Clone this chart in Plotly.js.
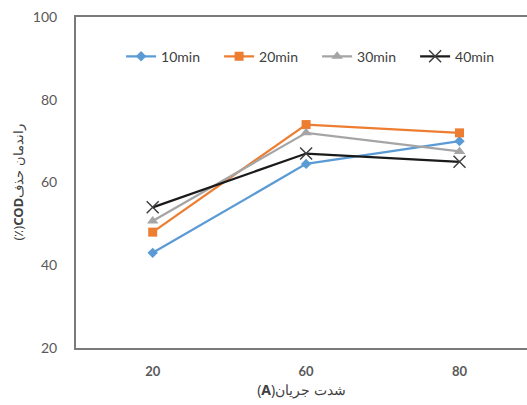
<!DOCTYPE html>
<html>
<head>
<meta charset="utf-8">
<script src="https://cdn.plot.ly/plotly-3.0.1.min.js"></script>
<style>html,body{margin:0;padding:0;background:#fff;}#chart{width:527px;height:405px;}</style>
</head>
<body>
<div id="chart"></div>
<script>
const categories = ["20", "60", "80"];
const seriesNames = ["10min", "20min", "30min", "40min"];
const values10 = [43, 64.5, 70];
const values20 = [48, 74, 72];
const values30 = [50.7, 72, 67.5];
const values40 = [54, 67, 65];
const yTicks = [20, 40, 60, 80, 100];

const styles = [
  {line: '#5B9BD5', marker: {symbol: 'diamond', size: 8, color: '#5B9BD5'}},
  {line: '#ED7D31', marker: {symbol: 'square', size: 9, color: '#ED7D31'}},
  {line: '#A5A5A5', marker: {symbol: 'triangle-up', size: 10, color: '#A5A5A5'}},
  {line: '#1a1a1a', marker: {symbol: 'x-thin-open', size: 12, color: '#404040', line: {color: '#404040', width: 1.5}}}
];
const allValues = [values10, values20, values30, values40];

const traces = allValues.map((v, i) => ({
  type: 'scatter',
  mode: 'lines+markers',
  name: seriesNames[i],
  x: categories,
  y: v,
  line: {color: styles[i].line, width: 2.25},
  marker: styles[i].marker
}));

const layout = {
  width: 527, height: 405,
  margin: {l: 76, r: 0, t: 17, b: 57, autoexpand: false},
  paper_bgcolor: '#fff', plot_bgcolor: '#fff',
  font: {family: 'Lato, "Noto Sans", sans-serif', color: '#595959', size: 13},
  showlegend: true,
  legend: {
    orientation: 'h', x: 0.1, xanchor: 'left', y: 0.88, yanchor: 'middle',
    font: {size: 14, color: '#404040'}, bgcolor: 'rgba(0,0,0,0)',
    itemwidth: 30, tracegroupgap: 0, entrywidth: 53, entrywidthmode: 'pixels'
  },
  xaxis: {
    type: 'category', range: [-0.5, 2.44],
    showline: true, mirror: true, linecolor: '#7a7a7a', linewidth: 2,
    showgrid: false, zeroline: false, ticks: 'outside', ticklen: 10, tickcolor: 'rgba(0,0,0,0)',
    tickfont: {size: 13, color: '#595959', family: 'Lato, sans-serif', weight: 'bold'},
    title: {text: '(<b>A</b>)شدت جریان', font: {size: 14, color: '#404040', family: '"Noto Sans", sans-serif'}, standoff: 8}
  },
  yaxis: {
    range: [20, 100], tickvals: yTicks,
    showline: true, mirror: false, linecolor: '#7a7a7a', linewidth: 2,
    showgrid: false, zeroline: false, ticks: 'outside', ticklen: 14, tickcolor: 'rgba(0,0,0,0)',
    tickfont: {size: 14, color: '#595959'},
    title: {text: '(٪)<b>COD</b>راندمان حذف', font: {size: 13, color: '#404040', family: '"Noto Sans", sans-serif'}, standoff: 6}
  }
};

Plotly.newPlot('chart', traces, layout, {staticPlot: true, displayModeBar: false});
</script>
</body>
</html>
